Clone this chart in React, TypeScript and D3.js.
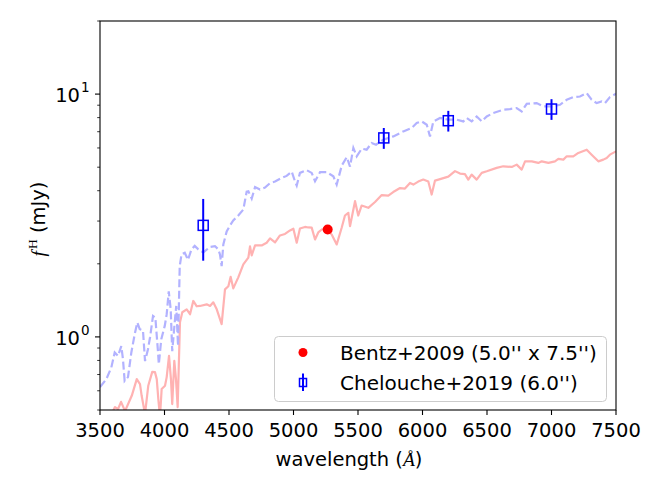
import * as d3 from "d3";

// galaxy template (solid pink) — wavelength in Å, flux in mJy
const pinkWave = [3500, 3601, 3616, 3640, 3663, 3694, 3746, 3785, 3810, 3823, 3849, 3874, 3905, 3926, 3940, 3952, 3965, 3978, 4004, 4017, 4035, 4050, 4060, 4076, 4089, 4102, 4120, 4138, 4172, 4198, 4223, 4250, 4275, 4327, 4353, 4378, 4405, 4443, 4469, 4495, 4513, 4533, 4572, 4611, 4650, 4663, 4676, 4702, 4727, 4753, 4792, 4818, 4857, 4895, 4934, 4973, 4999, 5025, 5050, 5089, 5115, 5141, 5167, 5192, 5219, 5257, 5296, 5335, 5374, 5399, 5425, 5438, 5477, 5502, 5528, 5580, 5632, 5684, 5735, 5773, 5826, 5864, 5903, 5929, 5967, 6006, 6045, 6071, 6097, 6149, 6200, 6252, 6291, 6329, 6355, 6381, 6420, 6459, 6498, 6575, 6626, 6692, 6730, 6769, 6795, 6847, 6898, 6924, 6976, 7027, 7053, 7092, 7118, 7169, 7208, 7273, 7311, 7363, 7402, 7428, 7453, 7500];
const pinkFlux = [0.44, 0.495, 0.514, 0.505, 0.54, 0.495, 0.572, 0.67, 0.639, 0.572, 0.481, 0.629, 0.718, 0.716, 0.67, 0.555, 0.468, 0.61, 0.629, 0.683, 0.835, 0.67, 0.529, 0.797, 0.67, 0.514, 1.149, 1.263, 1.299, 1.24, 1.406, 1.337, 1.341, 1.362, 1.341, 1.388, 1.299, 1.128, 1.57, 1.616, 1.767, 1.585, 1.759, 1.99, 2.12, 2.359, 2.166, 2.381, 2.381, 2.381, 2.443, 2.544, 2.449, 2.617, 2.655, 2.744, 2.789, 2.443, 2.797, 2.837, 2.823, 2.82, 2.52, 2.693, 2.77, 2.77, 2.642, 2.404, 2.823, 3.162, 3.244, 2.858, 3.622, 3.162, 3.476, 3.401, 3.594, 3.839, 3.821, 3.95, 4.102, 4.083, 4.308, 4.24, 4.362, 4.445, 4.362, 3.857, 4.403, 4.487, 4.573, 4.817, 4.705, 4.682, 4.445, 4.66, 4.445, 4.736, 4.808, 4.966, 5.042, 5.013, 5.123, 4.887, 5.285, 5.285, 5.206, 5.285, 5.206, 5.285, 5.408, 5.372, 5.542, 5.542, 5.723, 5.904, 5.631, 5.285, 5.372, 5.46, 5.631, 5.809];

// scaled template (dashed blue)
const blueWave = [3500, 3549, 3588, 3614, 3640, 3665, 3678, 3691, 3717, 3743, 3769, 3789, 3808, 3833, 3849, 3872, 3888, 3911, 3929, 3950, 3956, 3975, 4002, 4017, 4033, 4048, 4060, 4079, 4091, 4105, 4118, 4132, 4157, 4182, 4209, 4234, 4262, 4301, 4353, 4391, 4417, 4430, 4443, 4456, 4482, 4508, 4533, 4572, 4611, 4637, 4650, 4676, 4702, 4740, 4779, 4818, 4857, 4909, 4947, 4986, 5012, 5025, 5050, 5102, 5141, 5167, 5206, 5257, 5309, 5335, 5374, 5413, 5438, 5464, 5490, 5529, 5567, 5606, 5640, 5696, 5774, 5851, 5916, 5955, 5994, 6033, 6058, 6084, 6136, 6200, 6265, 6316, 6343, 6381, 6420, 6459, 6498, 6549, 6626, 6678, 6730, 6769, 6808, 6885, 6937, 7002, 7066, 7118, 7169, 7221, 7273, 7311, 7350, 7389, 7415, 7453, 7500];
const blueFlux = [0.621, 0.67, 0.749, 0.863, 0.835, 0.916, 0.81, 0.659, 0.683, 0.863, 1.026, 1.146, 1.076, 1.065, 0.795, 0.89, 0.997, 1.22, 1.201, 0.863, 0.772, 0.979, 1.11, 1.24, 1.541, 1.299, 0.873, 1.146, 1.341, 0.918, 1.958, 2.187, 2.222, 2.076, 2.293, 2.37, 2.293, 2.228, 2.348, 2.366, 2.293, 2.187, 1.958, 2.404, 2.719, 2.876, 3.017, 3.162, 3.347, 3.968, 3.98, 3.714, 4.141, 4.044, 4.121, 4.3, 4.362, 4.517, 4.603, 4.795, 4.362, 4.2, 4.736, 4.863, 4.736, 4.374, 4.773, 4.773, 4.586, 4.24, 5.075, 5.501, 5.027, 5.999, 5.542, 5.961, 5.904, 6.291, 6.19, 6.49, 6.696, 7.021, 7.251, 7.601, 7.717, 7.48, 6.696, 7.717, 7.97, 7.843, 7.843, 7.717, 7.97, 7.717, 8.091, 7.717, 8.091, 8.355, 8.62, 8.678, 8.76, 8.482, 9.123, 9.184, 8.894, 8.894, 9.037, 9.476, 9.721, 9.775, 10.09, 9.476, 9.184, 9.324, 9.184, 9.721, 10.03];

// photometry
const bentzWave = [5265];
const bentzFlux = [2.77];
const chelWave = [4300, 5700, 6200, 7000];
const chelFlux = [2.88, 6.6, 7.77, 8.68];
const chelErr = [0.82, 0.65, 0.76, 0.85];

const xTicks = [3500, 4000, 4500, 5000, 5500, 6000, 6500, 7000, 7500];
const yMajor = [1, 10];
const yMinor = [0.5, 0.6, 0.7, 0.8, 0.9, 2, 3, 4, 5, 6, 7, 8, 9, 20];

const W = 664, H = 498;
const L = 100, R = 616, T = 21, B = 410;
const FONT = "DejaVu Sans";

export default function App() {
  const x = d3.scaleLinear().domain([3500, 7500]).range([L, R]);
  const y = d3.scaleLog().domain([0.5, 20]).range([B, T]);
  const line = d3.line<[number, number]>().x(d => x(d[0])).y(d => y(d[1]));
  const pink = line(pinkWave.map((w, i) => [w, pinkFlux[i]]));
  const blue = line(blueWave.map((w, i) => [w, blueFlux[i]]));

  return (
    <svg width={W} height={H} style={{ position: "absolute", left: 0, top: 0 }} fontFamily={FONT}>
      <rect width={W} height={H} fill="#fff" />
      <defs>
        <clipPath id="plot">
          <rect x={L} y={T} width={R - L} height={B - T} />
        </clipPath>
      </defs>
      <g clipPath="url(#plot)">
        <path d={pink ?? ""} fill="none" stroke="#ffb2b2" strokeWidth={2.2} strokeLinejoin="round" />
        <path d={blue ?? ""} fill="none" stroke="#b2b2ff" strokeWidth={2.2} strokeDasharray="8 3.5" />
        {bentzWave.map((w, i) => (
          <circle key={i} cx={x(w)} cy={y(bentzFlux[i])} r={5} fill="#ff0000" />
        ))}
        {chelWave.map((w, i) => {
          const cx = x(w), cy = y(chelFlux[i]);
          return (
            <g key={i}>
              <line x1={cx} x2={cx} y1={y(chelFlux[i] + chelErr[i])} y2={y(chelFlux[i] - chelErr[i])} stroke="#0000ff" strokeWidth={2} />
              <rect x={cx - 5} y={cy - 5} width={10} height={10} fill="none" stroke="#0000ff" strokeWidth={1.5} />
            </g>
          );
        })}
      </g>

      {/* axes frame */}
      <rect x={L} y={T} width={R - L} height={B - T} fill="none" stroke="#000" strokeWidth={1.1} />

      {xTicks.map(t => (
        <g key={t}>
          <line x1={x(t)} x2={x(t)} y1={B} y2={B + 5} stroke="#000" strokeWidth={1.1} />
          <text x={x(t)} y={437} textAnchor="middle" fontSize={19.5}>{t}</text>
        </g>
      ))}
      {yMinor.map(t => (
        <line key={t} x1={L - 2.8} x2={L} y1={y(t)} y2={y(t)} stroke="#000" strokeWidth={0.8} />
      ))}
      {yMajor.map(t => (
        <g key={t}>
          <line x1={L - 5} x2={L} y1={y(t)} y2={y(t)} stroke="#000" strokeWidth={1.1} />
          <text x={80} y={y(t) + 8} textAnchor="end" fontSize={19.5}>10</text>
          <text x={81} y={y(t) - 2} textAnchor="start" fontSize={13.5}>{Math.round(Math.log10(t))}</text>
        </g>
      ))}

      <text x={349} y={466} textAnchor="middle" fontSize={19.5}>
        wavelength (<tspan fontFamily="Liberation Serif" fontStyle="italic">Å</tspan>)
      </text>
      <text transform="translate(45,219) rotate(-90)" textAnchor="middle" fontSize={19.5}>
        <tspan fontFamily="Liberation Serif" fontStyle="italic">f</tspan>
        <tspan fontFamily="Liberation Serif" fontSize={13.5} dx={2} dy={-8}>H</tspan>
        <tspan dy={8}> (mJy)</tspan>
      </text>

      {/* legend */}
      <g>
        <rect x={274.5} y={336.5} width={332} height={65} rx={4} fill="#fff" fillOpacity={0.8} stroke="#cccccc" strokeWidth={1} />
        <circle cx={303} cy={352.5} r={4.5} fill="#ff0000" />
        <text x={340} y={359.5} fontSize={20}>Bentz+2009 (5.0'' x 7.5'')</text>
        <line x1={303} x2={303} y1={373.5} y2={391} stroke="#0000ff" strokeWidth={2} />
        <rect x={299.5} y={378.5} width={7} height={8} fill="none" stroke="#0000ff" strokeWidth={1.5} />
        <text x={340} y={389.5} fontSize={20}>Chelouche+2019 (6.0'')</text>
      </g>
    </svg>
  );
}
